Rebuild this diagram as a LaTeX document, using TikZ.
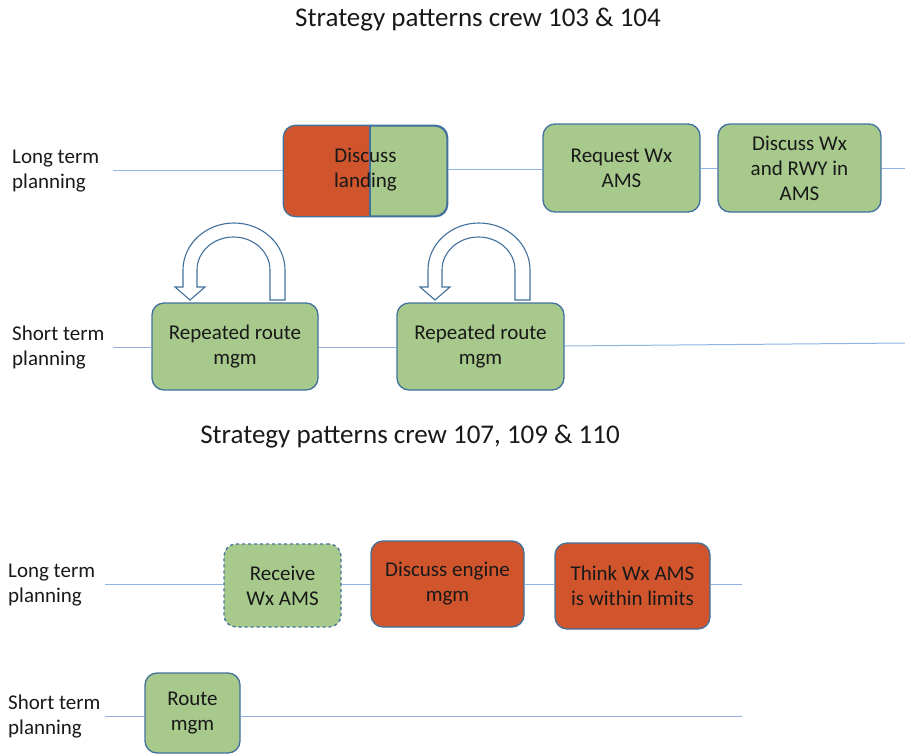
\documentclass[tikz,border=0pt]{standalone}
\usepackage{fontspec}
\setmainfont{Carlito}
\begin{document}
\begin{tikzpicture}[x=1pt,y=-1pt,
  every node/.style={font=\fontsize{21}{25}\selectfont, text=black!90},
  tl/.style={draw=tlblue, line width=1pt},
  gbox/.style={draw=bord, line width=1.3pt, fill=gfill, rounded corners=12pt, align=center, inner sep=0pt},
  rbox/.style={gbox, fill=rfill},
  lab/.style={align=left, anchor=west, inner sep=0pt},
  ttl/.style={font=\fontsize{27}{31}\selectfont},
  loop/.style={draw=bord, line width=1.1pt, fill=white}]
\definecolor{tlblue}{HTML}{8FB4E3}
\definecolor{bord}{HTML}{41719C}
\definecolor{gfill}{HTML}{A7C98C}
\definecolor{rfill}{HTML}{D0552D}
\useasboundingbox (0,0) rectangle (905,755);

% titles
\node[ttl] (t1) at (478,20) {Strategy patterns crew 103 \& 104};
\node[ttl] (t2) at (410,437) {Strategy patterns crew 107, 109 \& 110};

% labels
\node[lab] (l1) at (12,171) {Long term\\planning};
\node[lab] (s1) at (12,348) {Short term\\planning};
\node[lab] (l2) at (8,585) {Long term\\planning};
\node[lab] (s2) at (8,717) {Short term\\planning};

% ---- top part
\coordinate (a0) at (113,170);
\coordinate (aE) at (905,168);
\node[gbox, minimum width=163pt, minimum height=90pt] (dl) at (365.5,171) {};
\begin{scope}
\clip[rounded corners=12pt] (dl.south west) rectangle (dl.north east);
\fill[rfill] (dl.south west) rectangle (370,126);
\end{scope}
\draw[bord, line width=1.3pt, rounded corners=12pt] (dl.south west) rectangle (dl.north east);
\draw[bord, line width=1.3pt] (370,126) -- (370,216);
\node[align=center] (dlt) at ([yshift=1pt]dl.center) {Discuss\\landing};

\node[gbox, minimum width=157pt, minimum height=88pt] (rq) at (621.5,168) {Request Wx\\AMS};
\node[gbox, minimum width=163pt, minimum height=88pt] (dw) at (799.5,168) {Discuss Wx\\and RWY in\\AMS};

\draw[tl] (a0) -- (a0 -| dl.west);
\draw[tl] (dl.east |- 0,169) -- (rq.west |- 0,169);
\draw[tl] (rq.east) -- (dw.west);
\draw[tl] (dw.east) -- (aE);

\coordinate (b0) at (113,347);
\coordinate (bE) at (905,343);
\node[gbox, minimum width=166pt, minimum height=87pt] (r1) at (235,346.5) {Repeated route\\mgm};
\node[gbox, minimum width=167pt, minimum height=87pt] (r2) at (480.5,346.5) {Repeated route\\mgm};
\draw[tl] (b0) -- (b0 -| r1.west);
\draw[tl] (r1.east |- b0) -- (r2.west |- b0);
\draw[tl] (r2.east |- 0,346) -- (bE);

% loop arrows
\foreach \dx in {0,245}{
\begin{scope}[xshift=\dx]
\path[loop] (285,300) -- (285,270) arc[start angle=0, end angle=-180, x radius=51, y radius=47]
  -- (183,287) -- (175,287) -- (190,300) -- (205,287) -- (197,287) -- (197,270)
  arc[start angle=180, end angle=360, x radius=36.5, y radius=33] -- (270,300) -- cycle;
\end{scope}}

% ---- bottom part
\coordinate (c0) at (105,584);
\coordinate (cE) at (742,584);
\node[gbox, dashed, minimum width=117pt, minimum height=83pt] (rw) at (282.5,585.5) {Receive\\Wx AMS};
\node[rbox, minimum width=153pt, minimum height=86pt] (de) at (447.5,584) {Discuss engine\\mgm};
\node[rbox, minimum width=155pt, minimum height=86pt] (tw) at (632.5,586) {Think Wx AMS\\is within limits};
\draw[tl] (c0) -- (c0 -| rw.west);
\draw[tl] (rw.east |- c0) -- (de.west |- c0);
\draw[tl] (de.east |- c0) -- (tw.west |- c0);
\draw[tl] (tw.east |- c0) -- (cE);

\coordinate (d0) at (105,716);
\coordinate (dE) at (742,716);
\node[gbox, minimum width=95pt, minimum height=80pt] (rm) at (192.5,713) {Route\\mgm};
\draw[tl] (d0) -- (d0 -| rm.west);
\draw[tl] (rm.east |- d0) -- (dE);
\end{tikzpicture}
\end{document}
